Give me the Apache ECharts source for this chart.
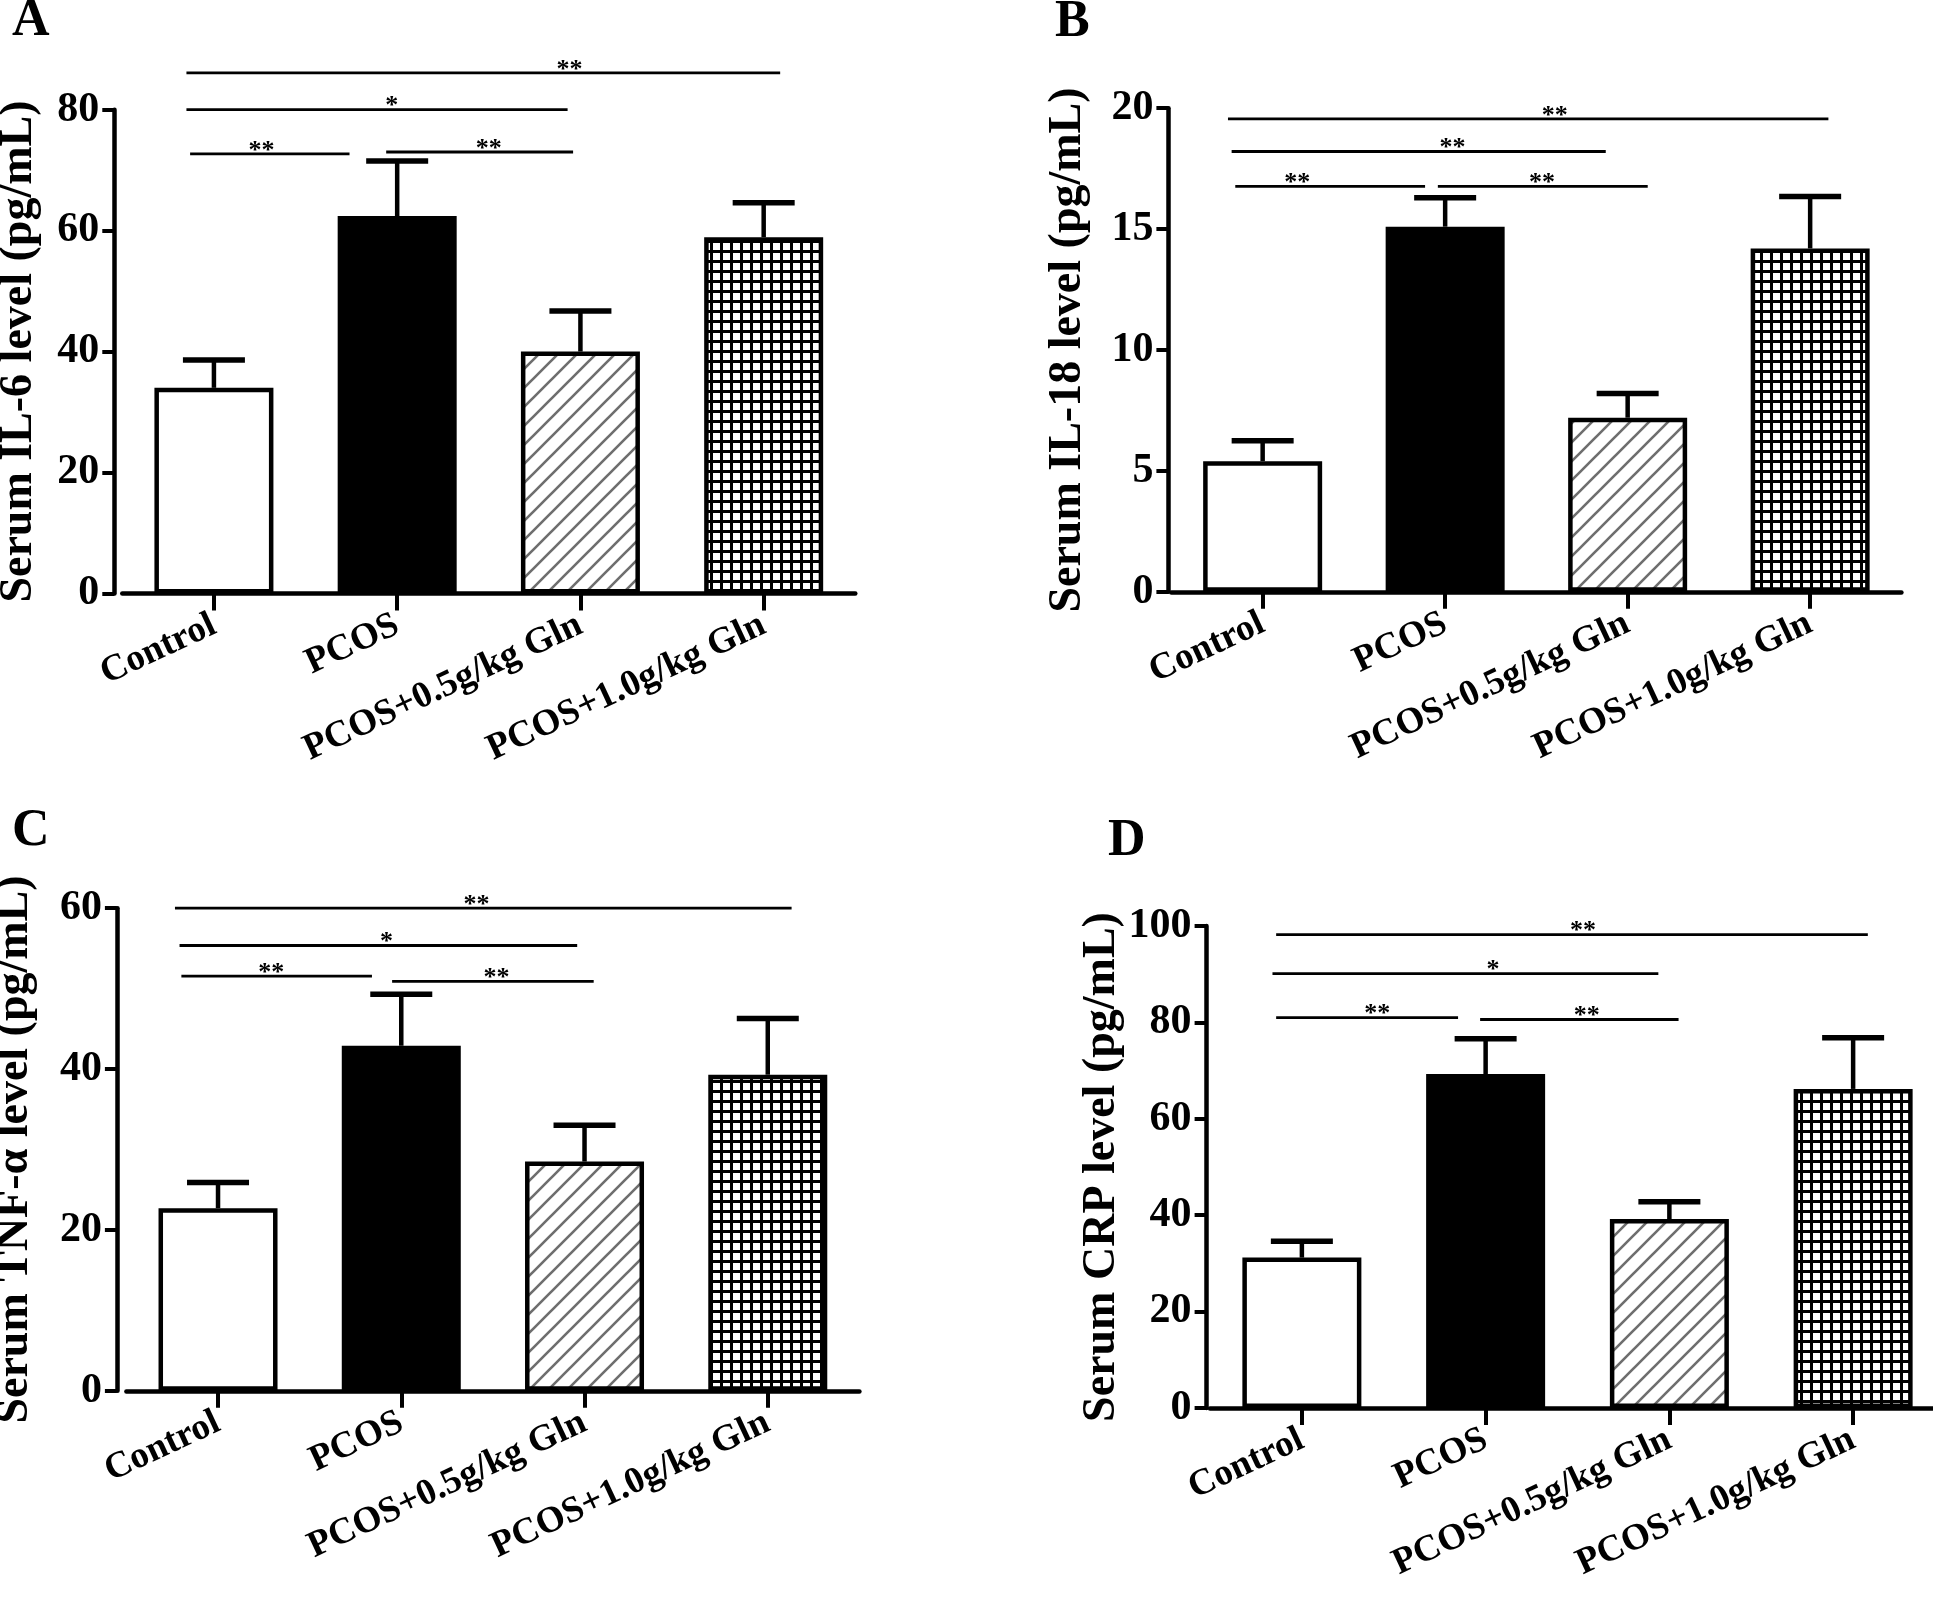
<!DOCTYPE html>
<html><head><meta charset="utf-8">
<script src="https://cdn.jsdelivr.net/npm/echarts@6/dist/echarts.min.js"></script>
<style>html,body{margin:0;padding:0;background:#fff}#chart{width:1933px;height:1600px}</style>
</head><body><div id="chart"></div>
<script>
// ---------------- data ----------------
const categories = ['Control', 'PCOS', 'PCOS+0.5g/kg Gln', 'PCOS+1.0g/kg Gln'];

const il6Mean  = [34.0, 62.4, 40.0, 58.9];
const il6SD    = [4.6, 9.1, 6.7, 5.7];
const il18Mean = [5.4, 15.1, 7.2, 14.2];
const il18SD   = [0.85, 1.2, 1.0, 2.15];
const tnfMean  = [22.7, 42.9, 28.5, 39.3];
const tnfSD    = [3.2, 6.4, 4.5, 7.0];
const crpMean  = [31.2, 69.3, 39.2, 66.2];
const crpSD    = [3.4, 7.3, 3.6, 10.6];

// significance brackets: [from (category units), to, y value, label x, label]
const sigA = [[-0.15, 3.09, 86.1, 1.94, '**'], [-0.15, 1.93, 80.0, 0.97, '*'], [-0.13, 0.74, 72.7, 0.26, '**'], [0.94, 1.96, 73.0, 1.50, '**']];
const sigB = [[-0.19, 3.10, 19.56, 1.60, '**'], [-0.17, 1.88, 18.21, 1.04, '**'], [-0.15, 0.89, 16.77, 0.19, '**'], [0.96, 2.11, 16.77, 1.53, '**']];
const sigC = [[-0.235, 3.13, 60.0, 1.41, '**'], [-0.21, 1.96, 55.36, 0.92, '*'], [-0.20, 0.84, 51.55, 0.29, '**'], [0.95, 2.05, 50.9, 1.52, '**']];
const sigD = [[-0.14, 3.08, 98.2, 1.53, '**'], [-0.16, 1.94, 90.1, 1.04, '*'], [-0.14, 0.85, 81.0, 0.41, '**'], [0.97, 2.05, 80.6, 1.55, '**']];

const yTitles = ['Serum IL-6 level (pg/mL)', 'Serum IL-18 level (pg/mL)', 'Serum TNF-\u03b1 level (pg/mL)', 'Serum CRP level (pg/mL)'];
const panelLetters = ['A', 'B', 'C', 'D'];
const yMax = [80, 20, 60, 100];
const yStep = [20, 5, 20, 20];

const means = [il6Mean, il18Mean, tnfMean, crpMean];
const sds = [il6SD, il18SD, tnfSD, crpSD];
const sigs = [sigA, sigB, sigC, sigD];

// ---------------- styling / layout ----------------
const FONT = '"Liberation Serif", "Times New Roman", serif';
const layouts = [
  {left: 122.3, top: 109.7, width: 733, height: 483.7, offset: 8,   nameGap: 72, letter: [12, -4]},
  {left: 1171.4, top: 108.2, width: 730, height: 483.6, offset: 3,  nameGap: 77, letter: [1055, -3]},
  {left: 126.4, top: 908.2, width: 733, height: 482.6, offset: 9.5, nameGap: 79, letter: [12, 806]},
  {left: 1210, top: 926, width: 735, height: 482,     offset: 3.4,  nameGap: 74, letter: [1108, 816]}
];

function hatchCanvas() {
  const s = 19, c = document.createElement('canvas');
  c.width = s; c.height = s;
  const g = c.getContext('2d');
  g.fillStyle = '#fff'; g.fillRect(0, 0, s, s);
  g.strokeStyle = '#6e6e6e'; g.lineWidth = 2.6;
  g.beginPath();
  g.moveTo(-3, s + 3); g.lineTo(s + 3, -3);
  g.moveTo(-3, 3); g.lineTo(3, -3);
  g.moveTo(s - 3, s + 3); g.lineTo(s + 3, s - 3);
  g.stroke();
  return c;
}
function gridCanvas() {
  const s = 10, c = document.createElement('canvas');
  c.width = s; c.height = s;
  const g = c.getContext('2d');
  g.fillStyle = '#fff'; g.fillRect(0, 0, s, s);
  g.fillStyle = '#000';
  g.fillRect(0, 0, s, 3); g.fillRect(0, 0, 3, s);
  return c;
}
const fills = ['#ffffff', '#000000', {image: hatchCanvas(), repeat: 'repeat'}, {image: gridCanvas(), repeat: 'repeat'}];

const grids = [], xAxes = [], yAxes = [], series = [], graphics = [];

function errRender(params, api) {
  const i = api.value(0), m = api.value(1), sd = api.value(2);
  const p0 = api.coord([i, m]), p1 = api.coord([i, m + sd]);
  const half = 31;
  return {type: 'group', children: [
    {type: 'line', shape: {x1: p0[0], y1: p0[1], x2: p1[0], y2: p1[1]}, style: {stroke: '#000', lineWidth: 4.5}},
    {type: 'line', shape: {x1: p1[0] - half, y1: p1[1], x2: p1[0] + half, y2: p1[1]}, style: {stroke: '#000', lineWidth: 5.5}}
  ]};
}

function makeSigRender(list) {
  return function (params, api) {
    const y = api.value(1), x1 = api.value(2), x2 = api.value(3), lx = api.value(4);
    const base = api.coord([0, y]);
    const band = api.size([1, 0])[0];
    const label = list[params.dataIndex][4];
    return {type: 'group', children: [
      {type: 'line', shape: {x1: base[0] + x1 * band, y1: base[1], x2: base[0] + x2 * band, y2: base[1]},
       style: {stroke: '#000', lineWidth: 2.8}},
      {type: 'text', style: {text: label, x: base[0] + lx * band, y: base[1] - 3, align: 'center', verticalAlign: 'middle',
        font: 'bold 26px ' + FONT, fill: '#000'}}
    ]};
  };
}

for (let k = 0; k < 4; k++) {
  const L = layouts[k];
  grids.push({left: L.left, top: L.top, width: L.width, height: L.height, containLabel: false, outerBoundsMode: 'none'});
  xAxes.push({
    type: 'category', gridIndex: k, data: categories,
    axisLine: {show: true, lineStyle: {color: '#000', width: 4.5}},
    axisTick: {show: true, alignWithLabel: true, length: 17, lineStyle: {color: '#000', width: 4}},
    axisLabel: {interval: 0, rotate: 25, margin: 30, color: '#000', fontFamily: FONT, fontWeight: 'bold', fontSize: 37},
    splitLine: {show: false}
  });
  yAxes.push({
    type: 'value', gridIndex: k, min: 0, max: yMax[k], interval: yStep[k], offset: L.offset,
    name: yTitles[k], nameLocation: 'middle', nameGap: L.nameGap,
    nameTextStyle: {color: '#000', fontFamily: FONT, fontWeight: 'bold', fontSize: 46},
    axisLine: {show: true, lineStyle: {color: '#000', width: 4.5}},
    axisTick: {show: true, length: 12, lineStyle: {color: '#000', width: 4}},
    axisLabel: {margin: 15, color: '#000', fontFamily: FONT, fontWeight: 'bold', fontSize: 42},
    splitLine: {show: false}
  });
  series.push({
    type: 'bar', xAxisIndex: k, yAxisIndex: k, barWidth: 119,
    data: means[k].map((v, i) => ({value: v, itemStyle: {color: fills[i]}})),
    itemStyle: {borderColor: '#000', borderWidth: 4.5},
    emphasis: {disabled: true}, z: 2
  });
  series.push({
    type: 'custom', xAxisIndex: k, yAxisIndex: k, clip: false, z: 3,
    encode: {x: 0, y: 1},
    data: means[k].map((v, i) => [i, v, sds[k][i]]),
    renderItem: errRender
  });
  series.push({
    type: 'custom', xAxisIndex: k, yAxisIndex: k, clip: false, z: 3,
    encode: {x: 0, y: 1},
    data: sigs[k].map(s => [0, s[2], s[0], s[1], s[3]]),
    renderItem: makeSigRender(sigs[k])
  });
  graphics.push({type: 'text', left: L.letter[0], top: L.letter[1],
    style: {text: panelLetters[k], font: 'bold 52px ' + FONT, fill: '#000'}});
}

const chart = echarts.init(document.getElementById('chart'), null, {renderer: 'canvas'});
chart.setOption({
  animation: false,
  backgroundColor: '#fff',
  grid: grids, xAxis: xAxes, yAxis: yAxes, series: series, graphic: graphics
});
</script>
</body></html>
